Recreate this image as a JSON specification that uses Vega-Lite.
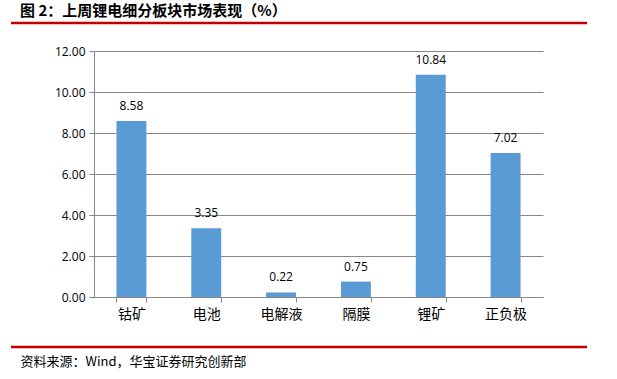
{
  "$schema": "https://vega.github.io/schema/vega-lite/v6.json",
  "autosize": {"type": "none"},
  "width": 449,
  "height": 246,
  "padding": {"left": 94, "top": 51, "right": 74, "bottom": 82},
  "background": "white",
  "config": {"view": {"stroke": null}},
  "title": {
    "text": "图 2：上周锂电细分板块市场表现（%）",
    "anchor": "start",
    "frame": "group",
    "dx": -74,
    "offset": 3,
    "font": "Noto Sans CJK SC",
    "fontSize": 15,
    "fontWeight": "bold",
    "color": "#000000"
  },
  "data": {
    "values": [
      {"板块": "钴矿", "涨跌幅": 8.58},
      {"板块": "电池", "涨跌幅": 3.35},
      {"板块": "电解液", "涨跌幅": 0.22},
      {"板块": "隔膜", "涨跌幅": 0.75},
      {"板块": "锂矿", "涨跌幅": 10.84},
      {"板块": "正负极", "涨跌幅": 7.02}
    ]
  },
  "layer": [
    {
      "mark": {"type": "bar", "color": "#5B9BD5"},
      "encoding": {
        "x": {
          "field": "板块",
          "type": "nominal",
          "sort": null,
          "scale": {"paddingInner": 0.6, "paddingOuter": 0.3},
          "axis": {
            "title": "资料来源：Wind，华宝证券研究创新部",
            "titleAnchor": "start",
            "titleX": -74,
            "titleY": 64,
            "titleAlign": "left",
            "titleBaseline": "middle",
            "titleFont": "Noto Sans CJK SC",
            "titleFontSize": 13,
            "titleFontWeight": "normal",
            "titleColor": "#000000",
            "labelAngle": 0,
            "labelFont": "Noto Sans CJK SC",
            "labelFontSize": 14,
            "labelColor": "#000000",
            "labelPadding": 5,
            "domainColor": "#868686",
            "tickColor": "#868686",
            "tickBand": "extent",
            "tickSize": 5,
            "grid": false
          }
        },
        "y": {
          "field": "涨跌幅",
          "type": "quantitative",
          "scale": {"domain": [0, 12], "nice": false},
          "axis": {
            "title": null,
            "values": [0, 2, 4, 6, 8, 10, 12],
            "format": ".2f",
            "labelFont": "Open Sans",
            "labelFontSize": 12,
            "labelColor": "#000000",
            "labelPadding": 4,
            "tickSize": 5,
            "tickColor": "#868686",
            "domainColor": "#868686",
            "gridColor": "#868686",
            "grid": true
          }
        }
      }
    },
    {
      "mark": {"type": "text", "baseline": "bottom", "dy": -8, "font": "Open Sans", "fontSize": 12, "color": "#000000"},
      "encoding": {
        "x": {"field": "板块", "type": "nominal", "sort": null},
        "y": {"field": "涨跌幅", "type": "quantitative"},
        "text": {"field": "涨跌幅", "type": "quantitative", "format": ".2f"}
      }
    },
    {
      "data": {"values": [{"线": "top"}]},
      "mark": {"type": "rule", "color": "#C00000", "strokeWidth": 2.5},
      "encoding": {
        "x": {"value": -83},
        "x2": {"value": 493},
        "y": {"value": -28}
      }
    },
    {
      "data": {"values": [{"线": "bottom"}]},
      "mark": {"type": "rule", "color": "#C00000", "strokeWidth": 2.5},
      "encoding": {
        "x": {"value": -83},
        "x2": {"value": 493},
        "y": {"value": 296}
      }
    }
  ]
}
